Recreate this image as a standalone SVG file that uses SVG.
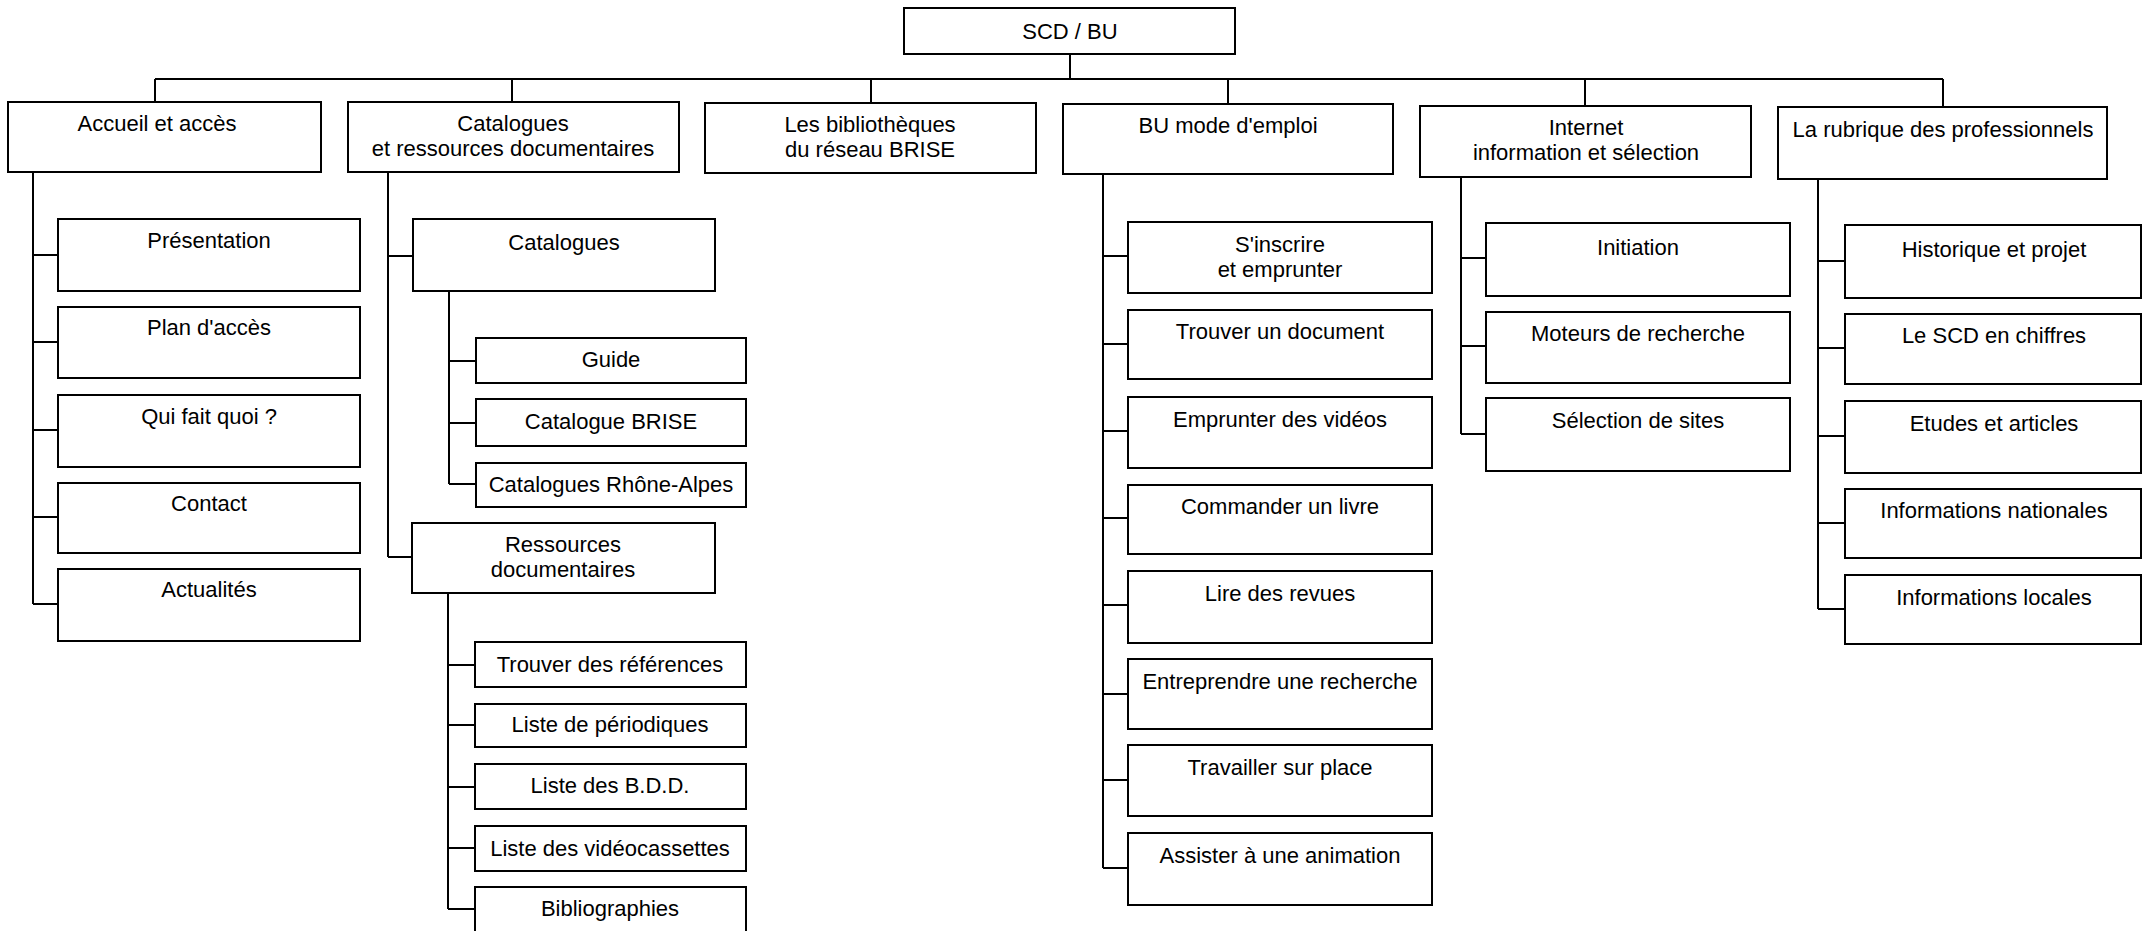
<svg xmlns="http://www.w3.org/2000/svg" width="2144" height="931" viewBox="0 0 2144 931">
<style>
.b{fill:#fff;stroke:#000;stroke-width:2}
.t{font-family:"Liberation Sans",Arial,sans-serif;font-size:22px;fill:#000;text-anchor:middle}
.c{fill:none;stroke:#000;stroke-width:2}
</style>
<rect width="2144" height="931" fill="#fff"/>
<g id="connectors" class="c">
<path d="M1070 54V79M155 79H1943M155 79V102M512 79V102M871 79V103M1228 79V104M1585 79V106M1943 79V107"/>
<path d="M33 172V604M33 255H58M33 342H58M33 430H58M33 517H58M33 604H58"/>
<path d="M388 172V557M388 256H413M388 557H412"/>
<path d="M449 291V484M449 361H476M449 423H476M449 484H476"/>
<path d="M448 593V909M448 665H475M448 725H475M448 787H475M448 848H475M448 909H475"/>
<path d="M1103 174V868M1103 256H1128M1103 344H1128M1103 431H1128M1103 518H1128M1103 605H1128M1103 694H1128M1103 780H1128M1103 868H1128"/>
<path d="M1461 177V434M1461 258H1486M1461 346H1486M1461 434H1486"/>
<path d="M1818 179V609M1818 261H1845M1818 348H1845M1818 436H1845M1818 523H1845M1818 609H1845"/>
</g>
<g id="n-root"><rect class="b" x="904" y="8" width="331" height="46"/><text class="t" x="1070" y="39">SCD / BU</text></g>
<g id="n-accueil"><rect class="b" x="8" y="102" width="313" height="70"/><text class="t" x="157" y="131">Accueil et accès</text></g>
<g id="n-catalogues"><rect class="b" x="348" y="102" width="331" height="70"/><text class="t" x="513" y="131">Catalogues</text><text class="t" x="513" y="156">et ressources documentaires</text></g>
<g id="n-bibliotheques"><rect class="b" x="705" y="103" width="331" height="70"/><text class="t" x="870" y="132">Les bibliothèques</text><text class="t" x="870" y="157">du réseau BRISE</text></g>
<g id="n-bu"><rect class="b" x="1063" y="104" width="330" height="70"/><text class="t" x="1228" y="133">BU mode d'emploi</text></g>
<g id="n-internet"><rect class="b" x="1420" y="106" width="331" height="71"/><text class="t" x="1586" y="135">Internet</text><text class="t" x="1586" y="160">information et sélection</text></g>
<g id="n-rubrique"><rect class="b" x="1778" y="107" width="329" height="72"/><text class="t" x="1943" y="137">La rubrique des professionnels</text></g>

<g id="n-presentation"><rect class="b" x="58" y="219" width="302" height="72"/><text class="t" x="209" y="248">Présentation</text></g>
<g id="n-plan"><rect class="b" x="58" y="307" width="302" height="71"/><text class="t" x="209" y="335">Plan d'accès</text></g>
<g id="n-qui"><rect class="b" x="58" y="395" width="302" height="72"/><text class="t" x="209" y="424">Qui fait quoi ?</text></g>
<g id="n-contact"><rect class="b" x="58" y="483" width="302" height="70"/><text class="t" x="209" y="511">Contact</text></g>
<g id="n-actualites"><rect class="b" x="58" y="569" width="302" height="72"/><text class="t" x="209" y="597">Actualités</text></g>

<g id="n-cat-sub"><rect class="b" x="413" y="219" width="302" height="72"/><text class="t" x="564" y="250">Catalogues</text></g>
<g id="n-guide"><rect class="b" x="476" y="338" width="270" height="45"/><text class="t" x="611" y="367">Guide</text></g>
<g id="n-cat-brise"><rect class="b" x="476" y="399" width="270" height="47"/><text class="t" x="611" y="429">Catalogue BRISE</text></g>
<g id="n-cat-ra"><rect class="b" x="476" y="463" width="270" height="44"/><text class="t" x="611" y="492">Catalogues Rhône-Alpes</text></g>
<g id="n-ressources"><rect class="b" x="412" y="523" width="303" height="70"/><text class="t" x="563" y="552">Ressources</text><text class="t" x="563" y="577">documentaires</text></g>
<g id="n-refs"><rect class="b" x="475" y="642" width="271" height="45"/><text class="t" x="610" y="672">Trouver des références</text></g>
<g id="n-period"><rect class="b" x="475" y="704" width="271" height="43"/><text class="t" x="610" y="732">Liste de périodiques</text></g>
<g id="n-bdd"><rect class="b" x="475" y="764" width="271" height="45"/><text class="t" x="610" y="793">Liste des B.D.D.</text></g>
<g id="n-video"><rect class="b" x="475" y="826" width="271" height="45"/><text class="t" x="610" y="856">Liste des vidéocassettes</text></g>
<g id="n-biblio"><rect class="b" x="475" y="887" width="271" height="60"/><text class="t" x="610" y="916">Bibliographies</text></g>

<g id="n-inscrire"><rect class="b" x="1128" y="222" width="304" height="71"/><text class="t" x="1280" y="252">S'inscrire</text><text class="t" x="1280" y="277">et emprunter</text></g>
<g id="n-trouver"><rect class="b" x="1128" y="310" width="304" height="69"/><text class="t" x="1280" y="339">Trouver un document</text></g>
<g id="n-videos"><rect class="b" x="1128" y="397" width="304" height="71"/><text class="t" x="1280" y="427">Emprunter des vidéos</text></g>
<g id="n-commander"><rect class="b" x="1128" y="485" width="304" height="69"/><text class="t" x="1280" y="514">Commander un livre</text></g>
<g id="n-revues"><rect class="b" x="1128" y="571" width="304" height="72"/><text class="t" x="1280" y="601">Lire des revues</text></g>
<g id="n-recherche"><rect class="b" x="1128" y="659" width="304" height="70"/><text class="t" x="1280" y="689">Entreprendre une recherche</text></g>
<g id="n-travailler"><rect class="b" x="1128" y="745" width="304" height="71"/><text class="t" x="1280" y="775">Travailler sur place</text></g>
<g id="n-animation"><rect class="b" x="1128" y="833" width="304" height="72"/><text class="t" x="1280" y="863">Assister à une animation</text></g>

<g id="n-initiation"><rect class="b" x="1486" y="223" width="304" height="73"/><text class="t" x="1638" y="255">Initiation</text></g>
<g id="n-moteurs"><rect class="b" x="1486" y="312" width="304" height="71"/><text class="t" x="1638" y="341">Moteurs de recherche</text></g>
<g id="n-selection"><rect class="b" x="1486" y="398" width="304" height="73"/><text class="t" x="1638" y="428">Sélection de sites</text></g>

<g id="n-historique"><rect class="b" x="1845" y="225" width="296" height="73"/><text class="t" x="1994" y="257">Historique et projet</text></g>
<g id="n-chiffres"><rect class="b" x="1845" y="314" width="296" height="70"/><text class="t" x="1994" y="343">Le SCD en chiffres</text></g>
<g id="n-etudes"><rect class="b" x="1845" y="401" width="296" height="72"/><text class="t" x="1994" y="431">Etudes et articles</text></g>
<g id="n-nationales"><rect class="b" x="1845" y="489" width="296" height="69"/><text class="t" x="1994" y="518">Informations nationales</text></g>
<g id="n-locales"><rect class="b" x="1845" y="575" width="296" height="69"/><text class="t" x="1994" y="605">Informations locales</text></g>
</svg>
